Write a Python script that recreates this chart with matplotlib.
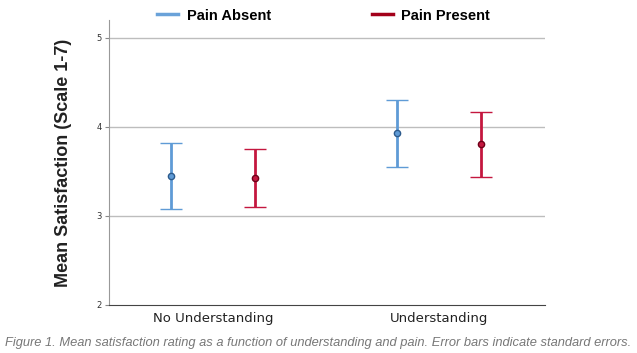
import matplotlib
matplotlib.use("Agg")
import matplotlib.pyplot as plt
from matplotlib.lines import Line2D
import numpy as np

categories = ["No Understanding", "Understanding"]
series = ["Pain Absent", "Pain Present"]
means_absent = [3.45, 3.93]
means_present = [3.43, 3.81]
upper_absent = [3.82, 4.30]
lower_absent = [3.08, 3.55]
upper_present = [3.75, 4.17]
lower_present = [3.10, 3.44]
yticks = [2, 3, 4, 5]

colors = {"Pain Absent": "#5f9bd6", "Pain Present": "#c4173f"}
edge_colors = {"Pain Absent": "#2c5a8c", "Pain Present": "#6e0018"}
legend_colors = {"Pain Absent": "#6aa2d9", "Pain Present": "#a3001a"}

fig = plt.figure(figsize=(6.37, 3.53), dpi=100)
ax = fig.add_axes([0.171, 0.136, 0.685, 0.807])

x = np.arange(len(categories))
offset = 0.186
data = {
    "Pain Absent": (means_absent, lower_absent, upper_absent, -offset),
    "Pain Present": (means_present, lower_present, upper_present, offset),
}
for name, (m, lo, hi, off) in data.items():
    m = np.array(m); lo = np.array(lo); hi = np.array(hi)
    ax.errorbar(x + off, m, yerr=[m - lo, hi - m], fmt="o", color=colors[name],
                ecolor=colors[name], elinewidth=2, capsize=7.8, capthick=2,
                markersize=4.5, markerfacecolor=colors[name],
                markeredgecolor=edge_colors[name], markeredgewidth=1.0, zorder=3)

ax.set_xlim(-0.46, 1.47)
ax.set_ylim(2, 5.2)
ax.set_yticks(yticks)
ax.set_yticklabels([str(t) for t in yticks], fontsize=6, color="#333333")
for t in yticks[1:]:
    ax.axhline(t, color="#bdbdbd", linewidth=1, zorder=1)
ax.set_xticks(x)
ax.set_xticklabels(categories, fontsize=9.5, color="#222222")
ax.tick_params(axis="x", length=0, pad=5)
ax.tick_params(axis="y", length=3, width=0.8, color="#888888", pad=2)
for s in ["top", "right"]:
    ax.spines[s].set_visible(False)
ax.spines["left"].set_color("#999999")
ax.spines["bottom"].set_color("#444444")
ax.spines["left"].set_linewidth(0.8)
ax.spines["bottom"].set_linewidth(0.8)

ax.set_ylabel("Mean Satisfaction (Scale 1-7)", fontsize=13, fontweight="bold",
              family="Liberation Sans", color="#222222", labelpad=18)

handles = [Line2D([0], [0], color=legend_colors[s], linewidth=2.5) for s in series]
fig.legend(handles, series, loc="upper center", bbox_to_anchor=(0.508, 1.013), ncol=2,
           frameon=False, handlelength=1.45, columnspacing=6.9, handletextpad=0.6,
           prop={"family": "Liberation Sans", "weight": "bold", "size": 10.5})

fig.text(0.5, 0.027, "Figure 1. Mean satisfaction rating as a function of understanding and pain. "
         "Error bars indicate standard errors.", ha="center", va="center",
         fontsize=9.3, style="italic", color="#777777", family="Liberation Sans")

fig.savefig("out.png", dpi=100)
